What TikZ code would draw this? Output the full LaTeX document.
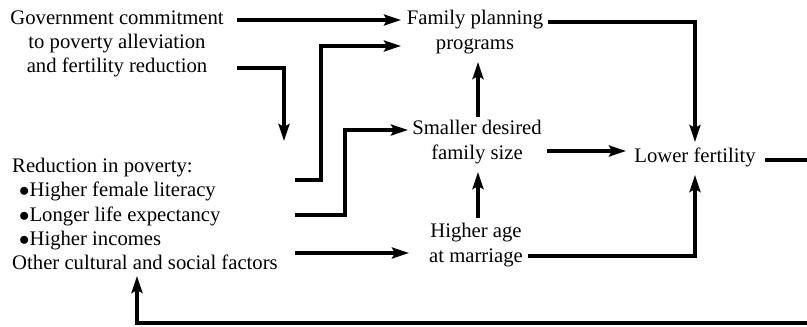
\documentclass[tikz,border=0pt]{standalone}
\usepackage{fontspec}
\setmainfont{Liberation Serif}
\newfontfamily\diagfont{Liberation Serif}
\usetikzlibrary{arrows.meta}
\begin{document}
\begin{tikzpicture}[x=1pt,y=-1pt,
  label/.style={inner sep=0pt,font=\diagfont\fontsize{20.7}{24.2}\selectfont},
  flow/.style={line width=3.3pt,-{Stealth[length=17pt,width=11pt,inset=3pt]}},
  plain/.style={line width=3.3pt}]
\useasboundingbox (0,0) rectangle (807,327);
\clip (0,0) rectangle (807,327);

% text blocks
\node[label,align=center] (gov) at (117,44) {Government commitment\\to poverty alleviation\\and fertility reduction};
\node[label,align=center] (fp) at (475,32) {Family planning\\programs};
\node[label,align=center] (sds) at (477,142) {Smaller desired\\family size};
\node[label] (lf) at (695,157) {Lower fertility};
\node[label,align=center] (ham) at (476,245) {Higher age\\at marriage};
\node[label,align=left,anchor=west] (red) at (12,214)
  {Reduction in poverty:\\\hspace{7pt}$\bullet$Higher female literacy\\\hspace{7pt}$\bullet$Longer life expectancy\\\hspace{7pt}$\bullet$Higher incomes\\Other cultural and social factors};

% connector end points
\coordinate (govA) at (237,20);   \coordinate (fpA) at (401,20);
\coordinate (govB) at (237,68);   \coordinate (redT) at (284,141);
\coordinate (redA) at (295,180);  \coordinate (fpB) at (401,46);
\coordinate (redB) at (295,215);  \coordinate (sdsA) at (408,130);
\coordinate (redC) at (295,253);  \coordinate (hamA) at (409,253);
\coordinate (sdsT) at (478,117);  \coordinate (fpS) at (478,62);
\coordinate (hamT) at (478,218);  \coordinate (sdsS) at (478,172);
\coordinate (sdsR) at (547,151);  \coordinate (lfW) at (626,151);
\coordinate (fpR) at (548,22);    \coordinate (lfN) at (695,142);
\coordinate (hamR) at (528,256);  \coordinate (lfS) at (695,175);
\coordinate (lfR) at (765,160);   \coordinate (redS) at (137,276);
\coordinate (loopE) at (820,0);   \coordinate (loopB) at (0,323);

% connectors
\draw[flow] (govA) -- (fpA);
\draw[flow] (govB) -| (redT);
\draw[flow] (redA) -- (321,180) |- (fpB);
\draw[flow] (redB) -- (345,215) |- (sdsA);
\draw[flow] (redC) -- (hamA);
\draw[flow] (sdsT) -- (fpS);
\draw[flow] (hamT) -- (sdsS);
\draw[flow] (sdsR) -- (lfW);
\draw[flow] (fpR) -| (lfN);
\draw[flow] (hamR) -| (lfS);
\draw[flow] (lfR) -- (lfR -| loopE) -- (loopE |- loopB) -- (redS |- loopB) -- (redS);
\end{tikzpicture}
\end{document}
